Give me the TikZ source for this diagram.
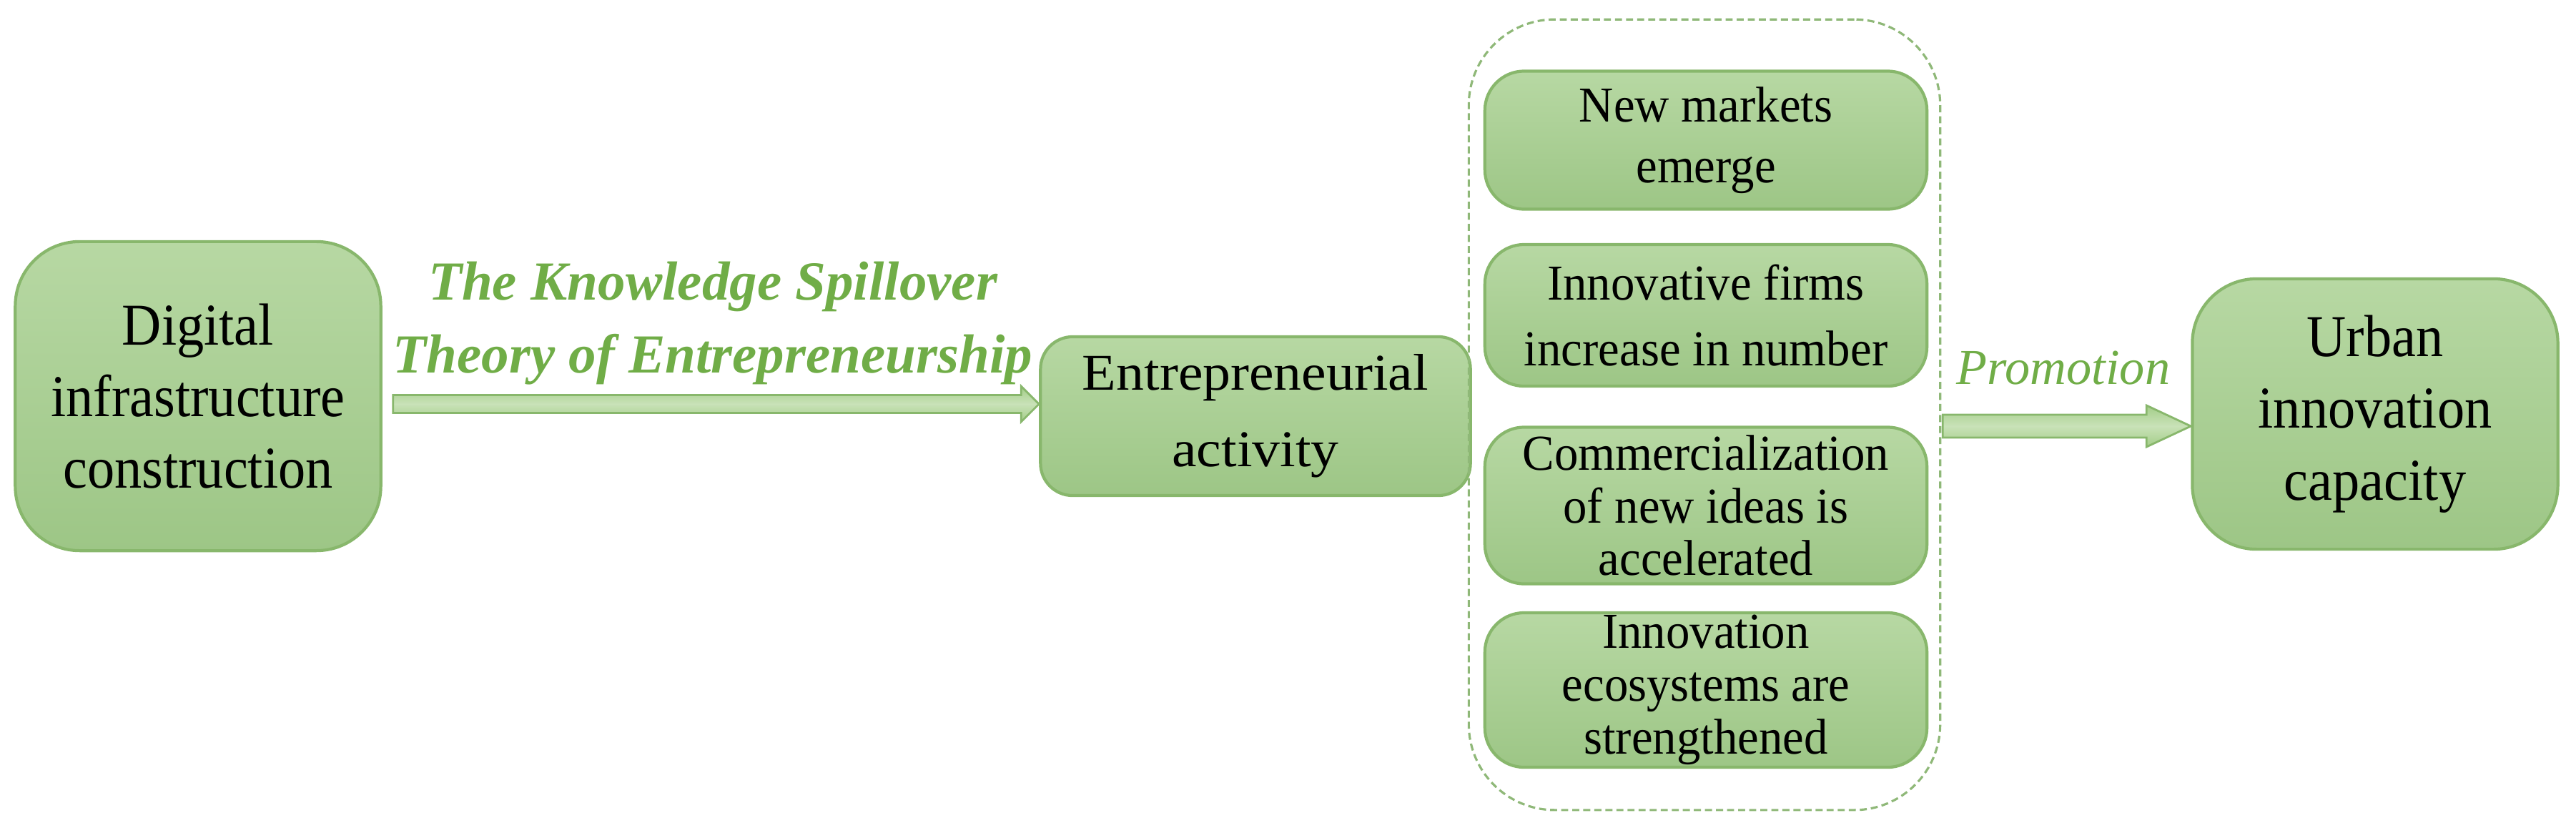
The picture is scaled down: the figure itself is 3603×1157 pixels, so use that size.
\documentclass[tikz,border=0pt]{standalone}
\usepackage{fontspec}
\setmainfont{Liberation Serif}
\newfontfamily\narrowserif{Liberation Serif}[FakeStretch=0.92]
\newfontfamily\effectserif{Liberation Serif}[FakeStretch=0.95]
\newfontfamily\wideserif{Liberation Serif}[FakeStretch=1.08]
\usetikzlibrary{calc}

\definecolor{boxtop}{HTML}{B7D8A3}
\definecolor{boxbot}{HTML}{9DC686}
\definecolor{boxline}{HTML}{88B76C}
\definecolor{frameline}{HTML}{8FB878}
\definecolor{labelgreen}{HTML}{70AD47}
\definecolor{arrowfill}{HTML}{A3CD88}
\definecolor{arrowlight}{HTML}{C9E2B8}

\begin{document}
\begin{tikzpicture}[
  x=0.01cm,
  y=-0.01cm,
  box/.style={
      rectangle,
      draw=boxline,
      line width=1.2pt,
      top color=boxtop,
      bottom color=boxbot,
      rounded corners=0.45cm,
      align=center,
      inner sep=0pt
  },
  bigbox/.style={
      box,
      rounded corners=0.9cm,
      font=\narrowserif\fontsize{23.6}{28.5}\selectfont
  },
  effect/.style={
      box,
      minimum width=6.18cm,
      rounded corners=0.55cm,
      font=\effectserif\fontsize{20}{21}\selectfont
  },
  groupframe/.style={
      rectangle,
      draw=frameline,
      line width=0.9pt,
      dash pattern=on 2.8pt off 1.6pt,
      rounded corners=1.2cm
  },
  mechlabel/.style={
      text=labelgreen,
      align=center,
      inner sep=0pt
  },
  blockarrow/.style={
      draw=boxline,
      line width=0.8pt,
      top color=arrowfill,
      bottom color=arrowfill,
      middle color=arrowlight
  }
]

\useasboundingbox (0,0) rectangle (3603,1157);

% ==================================================
% Cause
% ==================================================

\node[bigbox,
      minimum width=5.11cm,
      minimum height=4.32cm]
      (dig) at (277,554)
      {Digital\\infrastructure\\construction};

% ==================================================
% Mechanism
% ==================================================

\node[box,
      minimum width=6.01cm,
      minimum height=2.22cm,
      font=\wideserif\fontsize{20.5}{30.4}\selectfont]
      (ent) at (1756,582)
      {Entrepreneurial\\activity};

% ==================================================
% Effects of entrepreneurship
% ==================================================

\node[groupframe,
      minimum width=6.59cm,
      minimum height=11.05cm]
      (grp) at (2384,580) {};

\node[effect,
      minimum height=1.93cm,
      font=\effectserif\fontsize{20}{24}\selectfont]
      (mkt) at (2386,196)
      {New markets\\emerge};

\node[effect,
      minimum height=1.98cm,
      font=\effectserif\fontsize{20}{26}\selectfont]
      (firm) at (2386,441)
      {Innovative firms\\increase in number};

\node[effect, minimum height=2.19cm]
      (comm) at (2386,707)
      {Commercialization\\of new ideas is\\accelerated};

\node[effect, minimum height=2.16cm]
      (eco) at (2386,965)
      {Innovation\\ecosystems are\\strengthened};

% ==================================================
% Outcome
% ==================================================

\node[bigbox,
      minimum width=5.11cm,
      minimum height=3.78cm]
      (urb) at (3322,579)
      {Urban\\innovation\\capacity};

% ==================================================
% Labels
% ==================================================

\node[mechlabel,
      font=\fontsize{21.9}{29}\selectfont\bfseries\itshape]
      (theory) at (997,452)
      {The Knowledge Spillover\\Theory of Entrepreneurship};

\node[mechlabel,
      font=\fontsize{20}{22}\selectfont\itshape]
      (promo) at (2886,515)
      {Promotion};

% ==================================================
% Block arrows
% ==================================================

\coordinate (a1s) at ($(dig.east)+(15,11)$);
\coordinate (a1e) at (ent.west |- a1s);

\draw[blockarrow]
      ($(a1s)+(0,-12.5)$)
      -- ($(a1e)+(-25,-12.5)$)
      -- ($(a1e)+(-25,-25)$)
      -- (a1e)
      -- ($(a1e)+(-25,25)$)
      -- ($(a1e)+(-25,12.5)$)
      -- ($(a1s)+(0,12.5)$)
      -- cycle;

\coordinate (a2s) at ($(grp.east)+(2,16)$);
\coordinate (a2e) at (urb.west |- a2s);

\draw[blockarrow]
      ($(a2s)+(0,-16)$)
      -- ($(a2e)+(-62,-16)$)
      -- ($(a2e)+(-62,-29)$)
      -- (a2e)
      -- ($(a2e)+(-62,29)$)
      -- ($(a2e)+(-62,16)$)
      -- ($(a2s)+(0,16)$)
      -- cycle;

\end{tikzpicture}
\end{document}
